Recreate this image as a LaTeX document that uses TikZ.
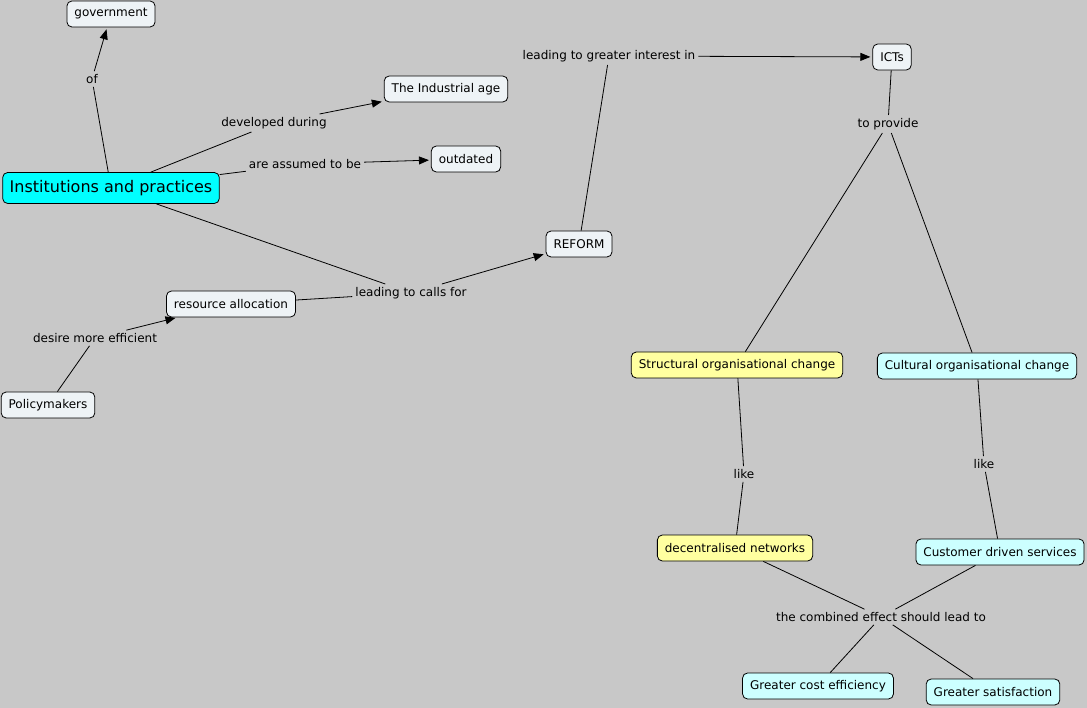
\documentclass[tikz,border=0pt]{standalone}
\usepackage{fontspec}
\setmainfont{DejaVu Sans}
\usetikzlibrary{arrows.meta,positioning}

\definecolor{mapbg}{RGB}{200,200,200}
\definecolor{cfill}{RGB}{238,243,246}
\definecolor{hlcyan}{RGB}{0,255,255}
\definecolor{palecyan}{RGB}{204,255,255}
\definecolor{paleyellow}{RGB}{255,255,160}

\begin{document}
\begin{tikzpicture}[x=1pt, y=-1pt,
  concept/.style={draw, rounded corners=5pt, fill=cfill, line width=0.8pt,
                  font=\fontsize{12}{14}\selectfont, inner xsep=7.5pt,
                  minimum height=26pt},
  phrase/.style={font=\fontsize{12}{14}\selectfont, inner sep=3pt},
  link/.style={line width=0.8pt},
  arr/.style={link, -{Triangle[length=10pt,width=8pt]}, shorten >=2pt},
]

%% ---- Canvas
\fill[mapbg] (0,0) rectangle (1087,708);
\useasboundingbox (0,0) rectangle (1087,708);

%% ======== LEFT PART — institutions ========
\node[concept, fill=hlcyan, font=\fontsize{16}{19}\selectfont,
      minimum height=31pt, inner xsep=7pt] (inst) at (111,188)
  {Institutions and practices};
\node[concept] (gov)      at (111,14)  {government};
\node[concept] (indage)   at (446,89)  {The Industrial age};
\node[concept] (outd)     at (466,159) {outdated};
\node[concept] (resalloc) at (231,304) {resource allocation};
\node[concept] (policy)   at (48,405)  {Policymakers};
\node[concept] (reform)   at (579,244) {REFORM};

\node[phrase] (lof)     at (92,79)   {of};
\node[phrase] (ldev)    at (274,123) {developed during};
\node[phrase] (lassume) at (305,164) {are assumed to be};
\node[phrase] (lcalls)  at (411,293) {leading to calls for};
\node[phrase] (ldesire) at (95,338)  {desire more efficient};

\draw[link] (inst) -- (lof);
\draw[arr]  (lof) -- (gov);
\draw[link] (inst) -- (ldev);
\draw[arr]  (ldev) -- (indage);
\draw[link] (inst) -- (lassume);
\draw[arr]  (lassume) -- (outd);
\draw[link] (inst) -- (lcalls);
\draw[link] (resalloc) -- (lcalls);
\draw[arr]  (lcalls) -- (reform);
\draw[link] (policy) -- (ldesire);
\draw[arr]  (ldesire) -- (resalloc);

%% ======== RIGHT PART — ICTs ========
\node[concept] (icts)    at (892,57)   {ICTs};
\node[concept, fill=paleyellow] (struct) at (737,365)
  {Structural organisational change};
\node[concept, fill=palecyan]   (cult)   at (977,366)
  {Cultural organisational change};
\node[concept, fill=paleyellow] (decnet) at (735,548)
  {decentralised networks};
\node[concept, fill=palecyan]   (custsvc) at (1000,552)
  {Customer driven services};
\node[concept, fill=palecyan]   (costeff) at (818,686)
  {Greater cost efficiency};
\node[concept, fill=palecyan]   (satisf)  at (993,692)
  {Greater satisfaction};

\node[phrase] (linterest) at (609,56)  {leading to greater interest in};
\node[phrase] (lprovide)  at (888,124) {to provide};
\node[phrase] (llikea)    at (744,474) {like};
\node[phrase] (llikeb)    at (984,464) {like};
\node[phrase] (lcombined) at (881,617) {the combined effect should lead to};

\draw[link] (reform) -- (linterest);
\draw[arr]  (linterest) -- (icts);
\draw[link] (icts) -- (lprovide);
\draw[link] (lprovide) -- (struct);
\draw[link] (lprovide) -- (cult);
\draw[link] (struct) -- (llikea);
\draw[link] (llikea) -- (decnet);
\draw[link] (cult) -- (llikeb);
\draw[link] (llikeb) -- (custsvc);
\draw[link] (decnet) -- (lcombined);
\draw[link] (custsvc) -- (lcombined);
\draw[link] (lcombined) -- (costeff);
\draw[link] (lcombined) -- (satisf);

\end{tikzpicture}
\end{document}
